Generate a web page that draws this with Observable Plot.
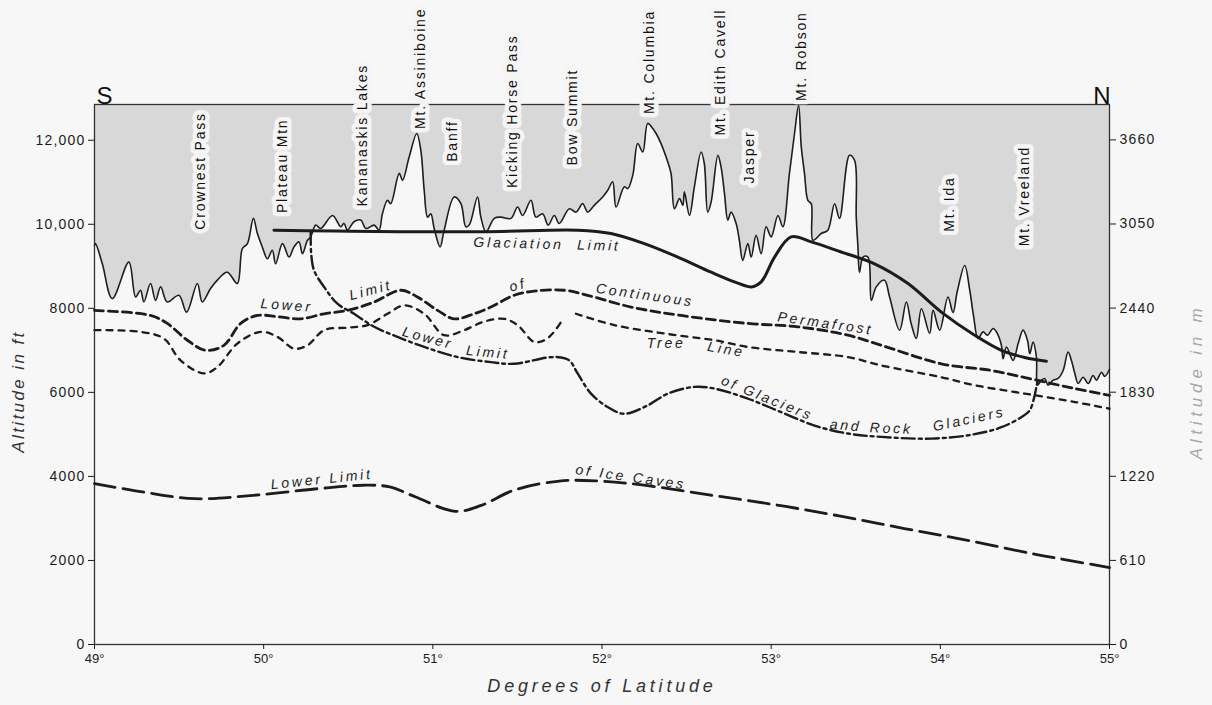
<!DOCTYPE html>
<html>
<head>
<meta charset="utf-8">
<script src="https://cdn.jsdelivr.net/npm/d3@7"></script>
<script src="https://cdn.jsdelivr.net/npm/@observablehq/plot@0.6"></script>
<style>
  html, body { margin: 0; padding: 0; background: #f7f7f7; overflow: hidden; }
</style>
</head>
<body>
<div id="chart"></div>
<script>
// ---------------- data (latitude in degrees, altitude in ft) ----------------
const TOP_FT = 12850;

const xTicks = [49, 50, 51, 52, 53, 54, 55];
const ftTicks = [0, 2000, 4000, 6000, 8000, 10000, 12000];
const mTicks = [0, 610, 1220, 1830, 2440, 3050, 3660];

// Mountain skyline profile
const profile = [
  [49.0, 9500], [49.006, 9540], [49.046, 9064], [49.105, 8230], [49.203, 9100], [49.243, 8270],
  [49.272, 8430], [49.292, 8150], [49.331, 8590], [49.361, 8190], [49.391, 8510], [49.430, 8150],
  [49.499, 8310], [49.544, 7910], [49.608, 8590], [49.637, 8150], [49.686, 8470], [49.726, 8670],
  [49.785, 8860], [49.844, 8590], [49.874, 9420], [49.904, 9540], [49.939, 10140], [49.963, 9780],
  [49.992, 9460], [50.022, 9180], [50.051, 9380], [50.071, 9060], [50.111, 9540], [50.150, 9220],
  [50.179, 9460], [50.209, 9580], [50.229, 9300], [50.259, 9620], [50.278, 9700], [50.308, 9980],
  [50.337, 9900], [50.407, 10210], [50.456, 9940], [50.475, 10020], [50.495, 9860], [50.534, 10060],
  [50.574, 10100], [50.604, 9900], [50.653, 9980], [50.682, 9860], [50.702, 10250], [50.732, 10570],
  [50.751, 10490], [50.801, 11210], [50.821, 11050], [50.860, 11600], [50.905, 12160], [50.929, 11760],
  [50.949, 10810], [50.969, 10170], [50.988, 10250], [51.008, 9900], [51.043, 9460], [51.067, 9860],
  [51.126, 10650], [51.166, 10490], [51.195, 9940], [51.215, 9980], [51.264, 10650], [51.284, 10170],
  [51.314, 9820], [51.363, 10140], [51.402, 10170], [51.462, 10140], [51.501, 10410], [51.531, 10210],
  [51.580, 10570], [51.609, 10170], [51.649, 10250], [51.682, 9980], [51.718, 10210], [51.747, 10020],
  [51.807, 10370], [51.846, 10290], [51.886, 10490], [51.915, 10290], [51.954, 10450], [52.004, 10650],
  [52.034, 10810], [52.063, 11010], [52.083, 10410], [52.132, 10890], [52.152, 10850], [52.182, 11170],
  [52.211, 11920], [52.241, 11720], [52.270, 12400], [52.300, 12280], [52.320, 12160], [52.349, 11920],
  [52.379, 11600], [52.408, 11210], [52.428, 10370], [52.458, 10610], [52.478, 10450], [52.487, 10770],
  [52.517, 10210], [52.546, 10890], [52.586, 11720], [52.605, 11440], [52.625, 10290], [52.645, 10530],
  [52.685, 11640], [52.704, 11360], [52.724, 10730], [52.744, 10100], [52.763, 10290], [52.793, 10020],
  [52.812, 9620], [52.832, 9140], [52.862, 9540], [52.882, 9220], [52.911, 9740], [52.941, 9300],
  [52.970, 9940], [53.000, 9700], [53.040, 10210], [53.069, 9940], [53.108, 11210], [53.138, 12160],
  [53.162, 12830], [53.178, 11840], [53.197, 11210], [53.217, 10570], [53.237, 10490], [53.247, 9620],
  [53.296, 9780], [53.335, 9860], [53.375, 10490], [53.404, 10140], [53.463, 11640], [53.493, 11520],
  [53.503, 10170], [53.513, 9460], [53.522, 8860], [53.543, 9220], [53.572, 9220], [53.592, 8190],
  [53.621, 8510], [53.670, 8670], [53.700, 8270], [53.759, 7480], [53.799, 8150], [53.828, 7630],
  [53.858, 7280], [53.888, 7990], [53.937, 7400], [53.957, 7950], [53.996, 7480], [54.045, 8270],
  [54.075, 7900], [54.100, 8400], [54.144, 9020], [54.174, 8430], [54.197, 7800], [54.223, 7280],
  [54.253, 7440], [54.278, 7360], [54.312, 7520], [54.337, 7400], [54.361, 7120], [54.371, 6800],
  [54.391, 7080], [54.430, 6760], [54.460, 7160], [54.489, 7480], [54.515, 7240], [54.529, 6920],
  [54.548, 7200], [54.568, 6840], [54.574, 6170], [54.598, 6290], [54.617, 6330], [54.637, 6170],
  [54.667, 6290], [54.696, 6330], [54.726, 6520], [54.755, 6960], [54.775, 6760], [54.795, 6450],
  [54.815, 6210], [54.844, 6360], [54.874, 6210], [54.903, 6400], [54.923, 6290], [54.953, 6480],
  [54.972, 6380], [55.0, 6550]
];

const glaciationLimit = [
  [50.061, 9860], [51.284, 9820], [51.856, 9860], [52.053, 9780], [52.250, 9540], [52.448, 9220],
  [52.645, 8860], [52.783, 8630], [52.882, 8510], [52.941, 8630], [53.020, 9220], [53.118, 9700],
  [53.237, 9580], [53.414, 9340], [53.611, 9060], [53.809, 8590], [54.006, 7910], [54.203, 7360],
  [54.361, 7000], [54.499, 6830], [54.627, 6740]
];

const permafrostLimit = [
  [49.0, 7950], [49.331, 7830], [49.430, 7640], [49.549, 7240], [49.657, 7000], [49.765, 7120],
  [49.864, 7640], [49.963, 7830], [50.081, 7800], [50.219, 7750], [50.357, 7870], [50.495, 7950],
  [50.653, 8150], [50.811, 8430], [50.909, 8270], [51.028, 7950], [51.126, 7750], [51.244, 7870],
  [51.343, 8030], [51.481, 8310], [51.599, 8410], [51.777, 8430], [51.915, 8310], [52.172, 8030],
  [52.467, 7830], [52.862, 7640], [53.158, 7560], [53.454, 7360], [53.651, 7120], [54.006, 6680],
  [54.302, 6520], [54.558, 6300], [54.795, 6090], [55.0, 5930]
];

const treeLineSouth = [
  [49.0, 7480], [49.272, 7440], [49.410, 7280], [49.509, 6760], [49.647, 6450], [49.726, 6600],
  [49.844, 7160], [49.982, 7440], [50.081, 7320], [50.179, 7040], [50.259, 7120], [50.357, 7480],
  [50.495, 7540], [50.614, 7600], [50.732, 7870], [50.830, 8070], [50.949, 7870], [51.067, 7360],
  [51.185, 7480], [51.300, 7680], [51.422, 7750], [51.501, 7600], [51.599, 7200], [51.659, 7240],
  [51.708, 7400], [51.757, 7670]
];

const treeLineNorth = [
  [51.846, 7870], [52.073, 7600], [52.369, 7400], [52.665, 7240], [52.862, 7080], [53.158, 6960],
  [53.454, 6840], [53.651, 6640], [54.006, 6360], [54.203, 6170], [54.499, 5970], [54.795, 5770],
  [55.0, 5610]
];

const glacierLimit = [
  [50.278, 9820], [50.281, 9300], [50.298, 8900], [50.357, 8510], [50.436, 8110], [50.534, 7870],
  [50.653, 7560], [50.791, 7320], [50.949, 7080], [51.146, 6840], [51.343, 6720], [51.481, 6680],
  [51.679, 6830], [51.757, 6830], [51.807, 6760], [51.856, 6450], [51.935, 5970], [52.034, 5650],
  [52.132, 5490], [52.270, 5690], [52.389, 5970], [52.546, 6130], [52.665, 6090], [52.862, 5850],
  [53.059, 5530], [53.256, 5210], [53.454, 5020], [53.651, 4940], [53.947, 4900], [54.183, 4990],
  [54.361, 5170], [54.479, 5410], [54.528, 5570], [54.556, 5900], [54.568, 6130], [54.577, 6290]
];

const iceCaveLimit = [
  [49.0, 3830], [49.284, 3630], [49.592, 3470], [49.938, 3550], [50.324, 3710], [50.592, 3790],
  [50.746, 3750], [50.899, 3510], [51.132, 3170], [51.286, 3310], [51.478, 3670], [51.748, 3890],
  [51.979, 3890], [52.249, 3790], [52.633, 3560], [53.018, 3330], [53.402, 3060], [53.787, 2760],
  [54.172, 2470], [54.556, 2150], [54.751, 2010], [55.0, 1830]
];

// Place names along the profile: name, latitude, label-centre altitude (ft)
const placeNames = ["Crownest Pass", "Plateau Mtn", "Kananaskis Lakes", "Mt. Assiniboine", "Banff",
  "Kicking Horse Pass", "Bow Summit", "Mt. Columbia", "Mt. Edith Cavell", "Jasper", "Mt. Robson",
  "Mt. Ida", "Mt. Vreeland"];
const placeLat = [49.627, 50.111, 50.586, 50.929, 51.117, 51.472, 51.827, 52.278, 52.698, 52.872, 53.178, 54.055, 54.499];
const placeFt = [11270, 11390, 12120, 13710, 11980, 12690, 12550, 13860, 13620, 11600, 14000, 10480, 10670];

// Line annotations: text, latitude, altitude (ft), angle along the line
const lineLabelText = ["Glaciation  Limit", "Lower", "Limit", "of", "Continuous", "Permafrost",
  "Tree", "Line", "Lower", "Limit", "of Glaciers", "and", "Rock", "Glaciers",
  "Lower Limit", "of Ice Caves"];
const lineLabelLat = [51.675, 50.136, 50.633, 51.503, 52.254, 53.32, 52.379, 52.734, 50.97, 51.325,
  52.976, 53.44, 53.71, 54.17, 50.343, 52.17];
const lineLabelFt = [9524, 8070, 8430, 8550, 8310, 7640, 7170, 7020, 7290, 6950, 5860, 5210, 5140,
  5360, 3930, 3980];
const lineLabelAngle = [1.5, 4, -15, -15, 8, 8, 0, 10, 15, 5, 22, 5, 2, -12, -6, 8];

// ---------------- build ----------------
const places = placeNames.map((name, i) => ({name, lat: placeLat[i], ft: placeFt[i]}));
const lineLabels = lineLabelText.map((text, i) => ({text, lat: lineLabelLat[i], ft: lineLabelFt[i], angle: lineLabelAngle[i]}));
const FT_PER_M = 3.28084;
const ink = "#1c1c1c";
const sans = "'Liberation Sans', Arial, Helvetica, sans-serif";

const chart = Plot.plot({
  width: 1212,
  height: 705,
  marginLeft: 94,
  marginRight: 103,
  marginTop: 104,
  marginBottom: 61,
  x: {domain: [49, 55]},
  y: {domain: [0, TOP_FT]},
  style: {background: "#f7f7f7", fontFamily: sans, fontSize: "13px", color: ink},
  marks: [
    Plot.areaY(profile, {x: d => d[0], y1: d => d[1], y2: TOP_FT, fill: "#d8d8d8", curve: "catmull-rom"}),
    Plot.frame({stroke: "#333", strokeWidth: 1.3}),
    Plot.axisX(xTicks, {tickFormat: d => d + "°", tickSize: 5, tickPadding: 4, fontSize: 13, label: null}),
    Plot.axisY(ftTicks, {tickFormat: d => d >= 10000 ? d3.format(",")(d) : String(d), tickSize: 6, tickPadding: 3, fontSize: 14, label: null}),
    Plot.axisY(mTicks.map(m => m * FT_PER_M), {anchor: "right", tickFormat: d => String(Math.round(d / FT_PER_M)), tickSize: 6, tickPadding: 4, fontSize: 14, label: null}),
    Plot.line(profile, {stroke: "#1e1e1e", strokeWidth: 1.6, curve: "catmull-rom"}),
    Plot.line(iceCaveLimit, {stroke: ink, strokeWidth: 2.8, strokeDasharray: "21,8", curve: "catmull-rom"}),
    Plot.line(glacierLimit, {stroke: ink, strokeWidth: 2.4, strokeDasharray: "13,4,3,4", curve: "catmull-rom"}),
    Plot.line(treeLineSouth, {stroke: ink, strokeWidth: 2.3, strokeDasharray: "6,6", curve: "catmull-rom"}),
    Plot.line(treeLineNorth, {stroke: ink, strokeWidth: 2.3, strokeDasharray: "6,6", curve: "catmull-rom"}),
    Plot.line(permafrostLimit, {stroke: ink, strokeWidth: 2.8, strokeDasharray: "9,5", curve: "catmull-rom"}),
    Plot.line(glaciationLimit, {stroke: ink, strokeWidth: 3, curve: "catmull-rom"}),
    Plot.text(places, {x: "lat", y: "ft", text: "name", rotate: -90, fontSize: 14, fill: "#111",
      stroke: "#f5f5f5", strokeWidth: 9}),
    Plot.text(lineLabels, {x: "lat", y: "ft", text: "text", rotate: "angle", fontSize: 14, fontStyle: "italic",
      fill: "#222"}),
    Plot.text(["S"], {frameAnchor: "top-left", dx: 2, dy: -18, fontSize: 24, fill: "#111", fontFamily: "'Liberation Sans Narrow', 'Liberation Sans', sans-serif"}),
    Plot.text(["N"], {frameAnchor: "top-right", dx: 1, dy: -18, fontSize: 24, fill: "#111", fontFamily: "'Liberation Sans Narrow', 'Liberation Sans', sans-serif"}),
    Plot.text(["Altitude in ft"], {frameAnchor: "left", textAnchor: "middle", dx: -76, dy: 17, rotate: -90, fontSize: 17, fontStyle: "italic", fill: "#333"}),
    Plot.text(["Altitude in m"], {frameAnchor: "right", textAnchor: "middle", dx: 87, dy: 7, rotate: -90, fontSize: 17, fontStyle: "italic", fill: "#a8a8a8"}),
    Plot.text(["Degrees of Latitude"], {frameAnchor: "bottom", textAnchor: "middle", dy: 47, fontSize: 18, fontStyle: "italic", fill: "#333"})
  ]
});

// letter spacing (styling only)
const placeSet = new Set(placeNames);
const lineSet = new Set(lineLabelText);
const spacing = {"Altitude in ft": "2.4px", "Altitude in m": "4.8px", "Degrees of Latitude": "3.8px"};
d3.select(chart).selectAll("text").each(function () {
  const t = this.textContent;
  if (placeSet.has(t)) this.style.letterSpacing = "1.8px";
  else if (lineSet.has(t)) this.style.letterSpacing = "2.8px";
  else if (spacing[t]) this.style.letterSpacing = spacing[t];
  else if (/^[\d,]+$/.test(t)) this.style.letterSpacing = "1.2px";
});
document.getElementById("chart").appendChild(chart);
</script>
</body>
</html>
